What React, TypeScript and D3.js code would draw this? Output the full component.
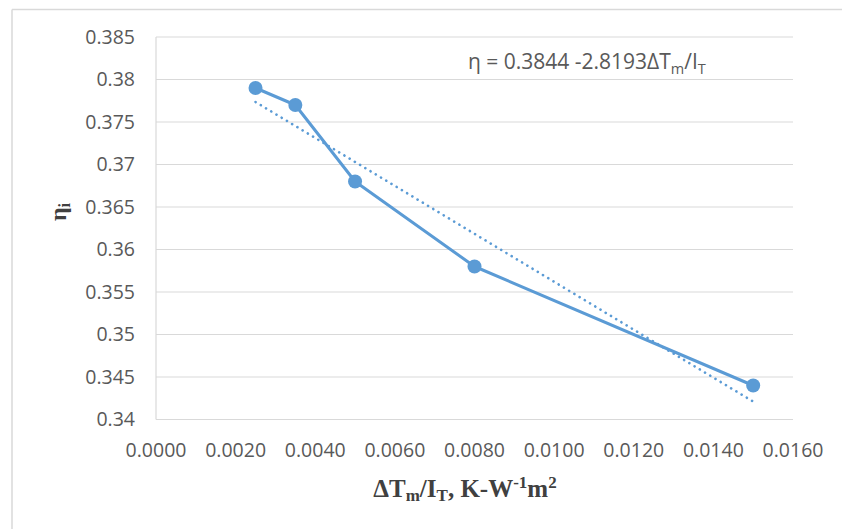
import React from "react";
import * as d3 from "d3";

const xValues = [0.0025, 0.0035, 0.005, 0.008, 0.015];
const etaValues = [0.379, 0.377, 0.368, 0.358, 0.344];
const yTicks = [0.34, 0.345, 0.35, 0.355, 0.36, 0.365, 0.37, 0.375, 0.38, 0.385];
const xTicks = [0, 0.002, 0.004, 0.006, 0.008, 0.01, 0.012, 0.014, 0.016];
const trendIntercept = 0.3844;
const trendSlope = -2.8193;

const W = 842;
const H = 529;
const plot = { left: 156, right: 793, top: 37, bottom: 419.5 };
const blue = "#5B9BD5";
const grid = "#D9D9D9";
const labelColor = "#595959";

export default function App() {
  const x = d3.scaleLinear().domain([0, 0.016]).range([plot.left, plot.right]);
  const y = d3.scaleLinear().domain([0.34, 0.385]).range([plot.bottom, plot.top]);
  const pts = xValues.map((v, i) => [v, etaValues[i]] as [number, number]);
  const line = d3
    .line<[number, number]>()
    .x((d) => x(d[0]))
    .y((d) => y(d[1]));
  const tx = [xValues[0], xValues[xValues.length - 1]];
  const trend = tx.map((v) => [v, trendIntercept + trendSlope * v] as [number, number]);

  return (
    <svg
      width={W}
      height={H}
      style={{ position: "absolute", left: 0, top: 0, background: "#fff" }}
    >
      <rect x={0} y={0} width={W} height={H} fill="#fff" />
      <line x1={12} y1={9.5} x2={W} y2={9.5} stroke={grid} strokeWidth={1.5} />
      <line x1={12} y1={9.5} x2={12} y2={H} stroke={grid} strokeWidth={1.5} />
      {yTicks.map((t) => (
        <g key={t}>
          <line x1={plot.left} x2={plot.right} y1={y(t)} y2={y(t)} stroke={grid} strokeWidth={1.2} />
          <text
            x={135}
            y={y(t)}
            dy="0.35em"
            textAnchor="end"
            fontFamily="'Open Sans', sans-serif"
            fontSize={19.5}
            fill={labelColor}
          >
            {String(t)}
          </text>
        </g>
      ))}
      <line x1={plot.left} x2={plot.left} y1={plot.top} y2={plot.bottom} stroke={grid} strokeWidth={1.2} />
      {xTicks.map((t) => (
        <text
          key={t}
          x={x(t)}
          y={450}
          dy="0.35em"
          textAnchor="middle"
          fontFamily="'Open Sans', sans-serif"
          fontSize={19.5}
          fill={labelColor}
        >
          {t.toFixed(4)}
        </text>
      ))}
      <path
        d={line(trend) || ""}
        fill="none"
        stroke={blue}
        strokeWidth={2.6}
        strokeDasharray="0.1 6"
        strokeLinecap="round"
      />
      <path d={line(pts) || ""} fill="none" stroke={blue} strokeWidth={3} strokeLinejoin="round" />
      {pts.map((p, i) => (
        <circle key={i} cx={x(p[0])} cy={y(p[1])} r={7} fill={blue} />
      ))}
      <text
        x={468}
        y={62}
        dy="0.35em"
        fontFamily="'Open Sans', sans-serif"
        fontSize={21}
        fill={labelColor}
      >
        η = 0.3844 -2.8193ΔT
        <tspan fontSize={14.5} dy={5}>m</tspan>
        <tspan dy={-5}>/I</tspan>
        <tspan fontSize={14.5} dy={5}>T</tspan>
      </text>
      <text
        x={465}
        y={497}
        textAnchor="middle"
        fontFamily="'Liberation Serif', 'Times New Roman', serif"
        fontWeight="bold"
        fontSize={25}
        fill="#404040"
      >
        ΔT
        <tspan fontSize={17} dy={4}>m</tspan>
        <tspan dy={-4}>/I</tspan>
        <tspan fontSize={17} dy={4}>T</tspan>
        <tspan dy={-4}>, K-W</tspan>
        <tspan fontSize={17} dy={-9}>-1</tspan>
        <tspan dy={9}>m</tspan>
        <tspan fontSize={17} dy={-9}>2</tspan>
      </text>
      <text
        transform="translate(66,212) rotate(-90)"
        textAnchor="middle"
        fontFamily="'Liberation Serif', 'Times New Roman', serif"
        fontWeight="bold"
        fontSize={24}
        fill="#404040"
      >
        η
        <tspan fontSize={16} dy={4}>i</tspan>
      </text>
    </svg>
  );
}
